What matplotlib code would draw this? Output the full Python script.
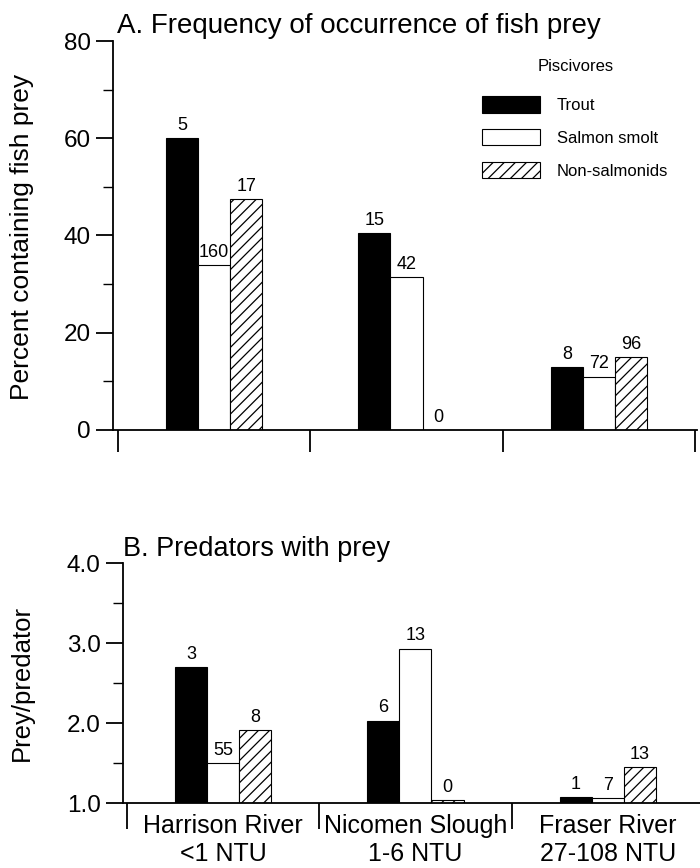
import matplotlib.pyplot as plt
import numpy as np
from matplotlib.patches import Patch

plt.rcParams['font.family'] = ['Liberation Sans', 'DejaVu Sans']

# data
sites = ["Harrison River\n<1 NTU", "Nicomen Slough\n1-6 NTU", "Fraser River\n27-108 NTU"]
groups = ["Trout", "Salmon smolt", "Non-salmonids"]

# A. percent containing fish prey
pct_trout = [60, 40.5, 13]
pct_salmon = [34, 31.5, 11]
pct_nonsal = [47.5, 0, 15]
n_trout_a = ["5", "15", "8"]
n_salmon_a = ["160", "42", "72"]
n_nonsal_a = ["17", "0", "96"]

# B. prey per predator
ppp_trout = [2.7, 2.03, 1.07]
ppp_salmon = [1.5, 2.93, 1.06]
ppp_nonsal = [1.91, 1.04, 1.45]
n_trout_b = ["3", "6", "1"]
n_salmon_b = ["55", "13", "7"]
n_nonsal_b = ["8", "0", "13"]

styles = [dict(facecolor='black', edgecolor='black'),
          dict(facecolor='white', edgecolor='black'),
          dict(facecolor='white', edgecolor='black', hatch='///')]

plt.rcParams['hatch.linewidth'] = 0.9

fig = plt.figure(figsize=(7, 8.68), dpi=100)
W, H = 700, 868


def axes_px(left, top, right, bottom):
    return fig.add_axes([left / W, 1 - bottom / H, (right - left) / W, (bottom - top) / H])


axA = axes_px(113, 41, 697, 430)
axB = axes_px(123, 563, 700, 803)

x = np.arange(len(sites))
w = 0.167


def draw(ax, series, labels, base):
    for i, (vals, labs, st) in enumerate(zip(series, labels, styles)):
        heights = [v - base for v in vals]
        bars = ax.bar(x + (i - 1) * w, heights, w, bottom=base, linewidth=0.8, **st)
        for b, lab in zip(bars, labs):
            ax.annotate(lab, (b.get_x() + b.get_width() / 2, b.get_y() + b.get_height()),
                        xytext=(0, 3), textcoords='offset points',
                        ha='center', va='bottom', fontsize=13)
    for s in ['top', 'right']:
        ax.spines[s].set_visible(False)
    for s in ['left', 'bottom']:
        ax.spines[s].set_linewidth(1.3)
    ax.set_xticks([-0.5, 0.5, 1.5, 2.5])
    ax.set_xticklabels([])
    ax.tick_params(axis='y', which='major', length=12, width=1.3, pad=4, labelsize=17.5)
    ax.tick_params(axis='y', which='minor', length=7, width=1.0)


draw(axA, [pct_trout, pct_salmon, pct_nonsal], [n_trout_a, n_salmon_a, n_nonsal_a], 0)
axA.set_ylim(0, 80)
axA.set_xlim(-0.526, 2.51)
axA.set_yticks(np.arange(0, 81, 20))
axA.set_yticks(np.arange(0, 81, 10), minor=True)
axA.tick_params(axis='x', which='major', length=16, width=1.3)
axA.text(0.007, 1.02, "A. Frequency of occurrence of fish prey", transform=axA.transAxes,
         fontsize=20, ha='left', va='baseline')

handles = [Patch(linewidth=0.8, **st) for st in styles]
leg = axA.legend(handles, groups, title="Piscivores", loc='upper left',
                 bbox_to_anchor=(0.632, 0.954), frameon=False, fontsize=12,
                 title_fontsize=12, handlelength=3.5, handleheight=1.15,
                 labelspacing=0.95, handletextpad=1.0, borderpad=0, borderaxespad=0)
leg._legend_box.sep = 16

draw(axB, [ppp_trout, ppp_salmon, ppp_nonsal], [n_trout_b, n_salmon_b, n_nonsal_b], 1.0)
axB.set_ylim(1.0, 4.0)
axB.set_xlim(-0.52, 2.48)
axB.set_yticks([1.0, 2.0, 3.0, 4.0])
axB.set_yticklabels(["1.0", "2.0", "3.0", "4.0"])
axB.set_yticks(np.arange(1.0, 4.01, 0.5), minor=True)
axB.tick_params(axis='x', which='major', length=19, width=1.3)
axB.set_xticks(x, minor=True)
axB.set_xticklabels(sites, minor=True)
axB.tick_params(axis='x', which='minor', length=0, pad=8, labelsize=18)
axB.text(0.0, 1.03, "B. Predators with prey", transform=axB.transAxes,
         fontsize=19.5, ha='left', va='baseline')

# y labels placed in figure pixels
fig.text(22 / W, 1 - 237 / H, "Percent containing fish prey", rotation=90,
         ha='center', va='center', fontsize=19)
fig.text(22 / W, 1 - 683 / H, "Prey/predator", rotation=90,
         ha='center', va='center', fontsize=18.5)

fig.savefig("out.png", dpi=100)
